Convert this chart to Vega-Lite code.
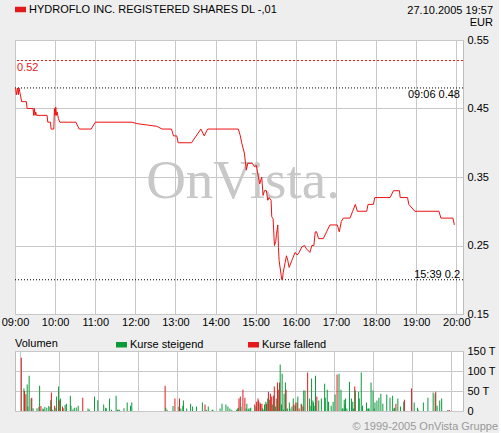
{
  "$schema": "https://vega.github.io/schema/vega-lite/v6.json",
  "background": "#eeeeee",
  "padding": {"left": 0, "top": 3, "right": 0, "bottom": 0},
  "spacing": 10,
  "resolve": {"scale": {"color": "independent"}},
  "vconcat": [
    {
      "width": 448,
      "height": 274,
      "title": {"text": ["27.10.2005 19:57", "EUR"], "anchor": "end", "frame": "group", "align": "right", "dx": 30, "offset": -23.5, "fontSize": 11, "fontWeight": "normal", "font": "Liberation Sans", "lineHeight": 11.5, "color": "#000000"},
      "layer": [
        {
          "data": {"values": [{"time": "2005-10-27T14:41", "level": 0.319, "label": "OnVista."}]},
          "mark": {"type": "text", "font": "Liberation Serif", "fontSize": 55, "color": "#c8c8c8", "align": "center", "baseline": "alphabetic"},
          "encoding": {
            "x": {"field": "time", "type": "temporal", "title": null, "scale": {"domain": {"expr": "[datetime(2005, 9, 27, 9, 0), datetime(2005, 9, 27, 20, 10)]"}}, "axis": {"format": "%H:%M", "tickCount": 12, "labelFlush": false, "labelOverlap": false, "labelPadding": 2, "grid": true}},
            "y": {"field": "level", "type": "quantitative", "title": null, "scale": {"domain": [0.15, 0.55], "nice": false, "zero": false}, "axis": {"orient": "right", "values": [0.15, 0.2, 0.25, 0.3, 0.35, 0.4, 0.45, 0.5, 0.55], "format": ".2f", "labelPadding": 4, "labelOverlap": false, "grid": true}},
            "text": {"field": "label"}
          }
        },
        {
          "data": {"values": [{"level": 0.52}]},
          "mark": {"type": "rule", "color": "#e8141c", "strokeDash": [2, 2], "strokeWidth": 1},
          "encoding": {"y": {"field": "level", "type": "quantitative", "scale": {"domain": [0.15, 0.55], "nice": false, "zero": false}}}
        },
        {
          "data": {"values": [{"level": 0.48}, {"level": 0.2}]},
          "mark": {"type": "rule", "color": "#000000", "strokeDash": [1, 2], "strokeWidth": 1},
          "encoding": {"y": {"field": "level", "type": "quantitative", "scale": {"domain": [0.15, 0.55], "nice": false, "zero": false}}}
        },
        {
          "data": {"values": [{"time": "2005-10-27T09:00", "level": 0.52, "label": "0.52"}]},
          "mark": {"type": "text", "align": "left", "baseline": "top", "dx": 2, "dy": 1, "color": "#e8141c", "fontSize": 11, "font": "Liberation Sans"},
          "encoding": {
            "x": {"field": "time", "type": "temporal", "scale": {"domain": {"expr": "[datetime(2005, 9, 27, 9, 0), datetime(2005, 9, 27, 20, 10)]"}}},
            "y": {"field": "level", "type": "quantitative", "scale": {"domain": [0.15, 0.55], "nice": false, "zero": false}},
            "text": {"field": "label"}
          }
        },
        {
          "data": {"values": [{"time": "2005-10-27T20:10", "level": 0.48, "label": "09:06 0.48"}]},
          "mark": {"type": "text", "align": "right", "baseline": "top", "dx": -3, "dy": 1, "color": "#000000", "fontSize": 11, "font": "Liberation Sans"},
          "encoding": {
            "x": {"field": "time", "type": "temporal", "scale": {"domain": {"expr": "[datetime(2005, 9, 27, 9, 0), datetime(2005, 9, 27, 20, 10)]"}}},
            "y": {"field": "level", "type": "quantitative", "scale": {"domain": [0.15, 0.55], "nice": false, "zero": false}},
            "text": {"field": "label"}
          }
        },
        {
          "data": {"values": [{"time": "2005-10-27T20:10", "level": 0.2, "label": "15:39 0.2"}]},
          "mark": {"type": "text", "align": "right", "baseline": "alphabetic", "dx": -3, "dy": -2, "color": "#000000", "fontSize": 11, "font": "Liberation Sans"},
          "encoding": {
            "x": {"field": "time", "type": "temporal", "scale": {"domain": {"expr": "[datetime(2005, 9, 27, 9, 0), datetime(2005, 9, 27, 20, 10)]"}}},
            "y": {"field": "level", "type": "quantitative", "scale": {"domain": [0.15, 0.55], "nice": false, "zero": false}},
            "text": {"field": "label"}
          }
        },
        {
          "data": {"values": [
            {"time": "2005-10-27T09:01", "price": 0.48},
            {"time": "2005-10-27T09:02", "price": 0.47},
            {"time": "2005-10-27T09:04", "price": 0.48},
            {"time": "2005-10-27T09:05", "price": 0.47},
            {"time": "2005-10-27T09:06", "price": 0.48},
            {"time": "2005-10-27T09:08", "price": 0.47},
            {"time": "2005-10-27T09:10", "price": 0.46},
            {"time": "2005-10-27T09:17", "price": 0.46},
            {"time": "2005-10-27T09:18", "price": 0.45},
            {"time": "2005-10-27T09:27", "price": 0.45},
            {"time": "2005-10-27T09:28", "price": 0.44},
            {"time": "2005-10-27T09:29", "price": 0.45},
            {"time": "2005-10-27T09:30", "price": 0.44},
            {"time": "2005-10-27T09:31", "price": 0.445},
            {"time": "2005-10-27T09:32", "price": 0.44},
            {"time": "2005-10-27T09:48", "price": 0.44},
            {"time": "2005-10-27T09:49", "price": 0.43},
            {"time": "2005-10-27T09:53", "price": 0.43},
            {"time": "2005-10-27T09:54", "price": 0.42},
            {"time": "2005-10-27T09:58", "price": 0.42},
            {"time": "2005-10-27T09:59", "price": 0.45},
            {"time": "2005-10-27T10:00", "price": 0.44},
            {"time": "2005-10-27T10:01", "price": 0.452},
            {"time": "2005-10-27T10:02", "price": 0.44},
            {"time": "2005-10-27T10:03", "price": 0.445},
            {"time": "2005-10-27T10:04", "price": 0.44},
            {"time": "2005-10-27T10:05", "price": 0.435},
            {"time": "2005-10-27T10:07", "price": 0.43},
            {"time": "2005-10-27T10:31", "price": 0.43},
            {"time": "2005-10-27T10:36", "price": 0.42},
            {"time": "2005-10-27T10:54", "price": 0.42},
            {"time": "2005-10-27T11:00", "price": 0.43},
            {"time": "2005-10-27T11:55", "price": 0.43},
            {"time": "2005-10-27T12:02", "price": 0.428},
            {"time": "2005-10-27T12:17", "price": 0.426},
            {"time": "2005-10-27T12:32", "price": 0.424},
            {"time": "2005-10-27T12:40", "price": 0.42},
            {"time": "2005-10-27T12:54", "price": 0.42},
            {"time": "2005-10-27T12:57", "price": 0.41},
            {"time": "2005-10-27T13:02", "price": 0.41},
            {"time": "2005-10-27T13:04", "price": 0.40},
            {"time": "2005-10-27T13:24", "price": 0.40},
            {"time": "2005-10-27T13:38", "price": 0.42},
            {"time": "2005-10-27T13:43", "price": 0.41},
            {"time": "2005-10-27T13:48", "price": 0.42},
            {"time": "2005-10-27T14:34", "price": 0.42},
            {"time": "2005-10-27T14:37", "price": 0.41},
            {"time": "2005-10-27T14:39", "price": 0.40},
            {"time": "2005-10-27T14:43", "price": 0.385},
            {"time": "2005-10-27T14:46", "price": 0.36},
            {"time": "2005-10-27T14:48", "price": 0.37},
            {"time": "2005-10-27T14:55", "price": 0.37},
            {"time": "2005-10-27T14:58", "price": 0.365},
            {"time": "2005-10-27T15:01", "price": 0.367},
            {"time": "2005-10-27T15:04", "price": 0.35},
            {"time": "2005-10-27T15:06", "price": 0.34},
            {"time": "2005-10-27T15:09", "price": 0.35},
            {"time": "2005-10-27T15:11", "price": 0.323},
            {"time": "2005-10-27T15:13", "price": 0.33},
            {"time": "2005-10-27T15:16", "price": 0.33},
            {"time": "2005-10-27T15:18", "price": 0.316},
            {"time": "2005-10-27T15:20", "price": 0.32},
            {"time": "2005-10-27T15:23", "price": 0.316},
            {"time": "2005-10-27T15:24", "price": 0.292},
            {"time": "2005-10-27T15:26", "price": 0.289},
            {"time": "2005-10-27T15:28", "price": 0.25},
            {"time": "2005-10-27T15:30", "price": 0.256},
            {"time": "2005-10-27T15:31", "price": 0.266},
            {"time": "2005-10-27T15:33", "price": 0.28},
            {"time": "2005-10-27T15:34", "price": 0.247},
            {"time": "2005-10-27T15:35", "price": 0.228},
            {"time": "2005-10-27T15:39", "price": 0.20},
            {"time": "2005-10-27T15:40", "price": 0.20},
            {"time": "2005-10-27T15:41", "price": 0.21},
            {"time": "2005-10-27T15:44", "price": 0.225},
            {"time": "2005-10-27T15:46", "price": 0.235},
            {"time": "2005-10-27T15:48", "price": 0.228},
            {"time": "2005-10-27T15:50", "price": 0.218},
            {"time": "2005-10-27T15:54", "price": 0.228},
            {"time": "2005-10-27T15:56", "price": 0.233},
            {"time": "2005-10-27T15:59", "price": 0.24},
            {"time": "2005-10-27T16:02", "price": 0.236},
            {"time": "2005-10-27T16:05", "price": 0.24},
            {"time": "2005-10-27T16:09", "price": 0.248},
            {"time": "2005-10-27T16:13", "price": 0.25},
            {"time": "2005-10-27T16:16", "price": 0.245},
            {"time": "2005-10-27T16:21", "price": 0.24},
            {"time": "2005-10-27T16:24", "price": 0.25},
            {"time": "2005-10-27T16:27", "price": 0.25},
            {"time": "2005-10-27T16:29", "price": 0.27},
            {"time": "2005-10-27T16:31", "price": 0.27},
            {"time": "2005-10-27T16:34", "price": 0.26},
            {"time": "2005-10-27T16:41", "price": 0.26},
            {"time": "2005-10-27T16:46", "price": 0.27},
            {"time": "2005-10-27T16:51", "price": 0.28},
            {"time": "2005-10-27T17:02", "price": 0.28},
            {"time": "2005-10-27T17:05", "price": 0.27},
            {"time": "2005-10-27T17:08", "price": 0.285},
            {"time": "2005-10-27T17:11", "price": 0.29},
            {"time": "2005-10-27T17:21", "price": 0.29},
            {"time": "2005-10-27T17:25", "price": 0.30},
            {"time": "2005-10-27T17:29", "price": 0.31},
            {"time": "2005-10-27T17:32", "price": 0.30},
            {"time": "2005-10-27T17:46", "price": 0.30},
            {"time": "2005-10-27T17:48", "price": 0.31},
            {"time": "2005-10-27T17:56", "price": 0.31},
            {"time": "2005-10-27T17:58", "price": 0.32},
            {"time": "2005-10-27T18:21", "price": 0.32},
            {"time": "2005-10-27T18:26", "price": 0.33},
            {"time": "2005-10-27T18:35", "price": 0.33},
            {"time": "2005-10-27T18:36", "price": 0.32},
            {"time": "2005-10-27T18:47", "price": 0.32},
            {"time": "2005-10-27T18:49", "price": 0.31},
            {"time": "2005-10-27T18:58", "price": 0.30},
            {"time": "2005-10-27T19:34", "price": 0.30},
            {"time": "2005-10-27T19:37", "price": 0.29},
            {"time": "2005-10-27T19:55", "price": 0.29},
            {"time": "2005-10-27T19:57", "price": 0.28}
          ]},
          "mark": {"type": "line", "strokeWidth": 1},
          "encoding": {
            "x": {"field": "time", "type": "temporal", "title": null, "scale": {"domain": {"expr": "[datetime(2005, 9, 27, 9, 0), datetime(2005, 9, 27, 20, 10)]"}}, "axis": {"format": "%H:%M", "tickCount": 12, "labelFlush": false, "labelOverlap": false, "labelPadding": 2, "grid": true}},
            "y": {"field": "price", "type": "quantitative", "title": null, "scale": {"domain": [0.15, 0.55], "nice": false, "zero": false}, "axis": {"orient": "right", "values": [0.15, 0.2, 0.25, 0.3, 0.35, 0.4, 0.45, 0.5, 0.55], "format": ".2f", "labelPadding": 4, "labelOverlap": false, "grid": true}},
            "color": {"datum": "HYDROFLO INC. REGISTERED SHARES DL -,01", "type": "nominal", "scale": {"range": ["#ee1111"]}, "legend": {"orient": "none", "legendX": 0, "legendY": -36, "title": null, "symbolType": "M-1,-0.5H1V0.5H-1Z", "symbolSize": 121, "symbolStrokeWidth": 0, "symbolFillColor": "#e31a1c", "labelFontSize": 11, "labelFont": "Liberation Sans", "labelOffset": 3, "labelLimit": 0, "labelColor": "#000000", "padding": 0}}
          }
        }
      ]
    },
    {
      "width": 448,
      "height": 60,
      "title": {"text": "© 1999-2005 OnVista Gruppe", "orient": "bottom", "anchor": "end", "frame": "group", "align": "right", "dx": 35, "offset": 5, "fontSize": 11, "fontWeight": "normal", "font": "Liberation Sans", "color": "#999999"},
      "data": {"values": [
        {"time": "2005-10-27T09:02", "volume": 133000, "dir": "Kurse fallend"},
        {"time": "2005-10-27T09:06", "volume": 56000, "dir": "Kurse steigend"},
        {"time": "2005-10-27T09:07", "volume": 50000, "dir": "Kurse fallend"},
        {"time": "2005-10-27T09:09", "volume": 42000, "dir": "Kurse fallend"},
        {"time": "2005-10-27T09:11", "volume": 66000, "dir": "Kurse steigend"},
        {"time": "2005-10-27T09:12", "volume": 11000, "dir": "Kurse steigend"},
        {"time": "2005-10-27T09:14", "volume": 88000, "dir": "Kurse steigend"},
        {"time": "2005-10-27T09:17", "volume": 31000, "dir": "Kurse steigend"},
        {"time": "2005-10-27T09:18", "volume": 33000, "dir": "Kurse fallend"},
        {"time": "2005-10-27T09:20", "volume": 7000, "dir": "Kurse steigend"},
        {"time": "2005-10-27T09:26", "volume": 7000, "dir": "Kurse steigend"},
        {"time": "2005-10-27T09:29", "volume": 10000, "dir": "Kurse fallend"},
        {"time": "2005-10-27T09:30", "volume": 63000, "dir": "Kurse steigend"},
        {"time": "2005-10-27T09:32", "volume": 12500, "dir": "Kurse fallend"},
        {"time": "2005-10-27T09:35", "volume": 6000, "dir": "Kurse steigend"},
        {"time": "2005-10-27T09:36", "volume": 4000, "dir": "Kurse steigend"},
        {"time": "2005-10-27T09:38", "volume": 10000, "dir": "Kurse steigend"},
        {"time": "2005-10-27T09:41", "volume": 8000, "dir": "Kurse steigend"},
        {"time": "2005-10-27T09:44", "volume": 12500, "dir": "Kurse steigend"},
        {"time": "2005-10-27T09:46", "volume": 10000, "dir": "Kurse steigend"},
        {"time": "2005-10-27T09:47", "volume": 27000, "dir": "Kurse steigend"},
        {"time": "2005-10-27T09:48", "volume": 46000, "dir": "Kurse fallend"},
        {"time": "2005-10-27T09:50", "volume": 3000, "dir": "Kurse steigend"},
        {"time": "2005-10-27T09:53", "volume": 13000, "dir": "Kurse fallend"},
        {"time": "2005-10-27T09:55", "volume": 8000, "dir": "Kurse steigend"},
        {"time": "2005-10-27T09:56", "volume": 36000, "dir": "Kurse steigend"},
        {"time": "2005-10-27T09:59", "volume": 61000, "dir": "Kurse steigend"},
        {"time": "2005-10-27T10:00", "volume": 27000, "dir": "Kurse fallend"},
        {"time": "2005-10-27T10:02", "volume": 31000, "dir": "Kurse steigend"},
        {"time": "2005-10-27T10:05", "volume": 11000, "dir": "Kurse fallend"},
        {"time": "2005-10-27T10:06", "volume": 7000, "dir": "Kurse fallend"},
        {"time": "2005-10-27T10:09", "volume": 15000, "dir": "Kurse steigend"},
        {"time": "2005-10-27T10:11", "volume": 18000, "dir": "Kurse steigend"},
        {"time": "2005-10-27T10:17", "volume": 38000, "dir": "Kurse steigend"},
        {"time": "2005-10-27T10:18", "volume": 13000, "dir": "Kurse steigend"},
        {"time": "2005-10-27T10:21", "volume": 4000, "dir": "Kurse steigend"},
        {"time": "2005-10-27T10:23", "volume": 8000, "dir": "Kurse steigend"},
        {"time": "2005-10-27T10:26", "volume": 9000, "dir": "Kurse steigend"},
        {"time": "2005-10-27T10:29", "volume": 13000, "dir": "Kurse steigend"},
        {"time": "2005-10-27T10:36", "volume": 33000, "dir": "Kurse fallend"},
        {"time": "2005-10-27T10:44", "volume": 6000, "dir": "Kurse steigend"},
        {"time": "2005-10-27T10:46", "volume": 4000, "dir": "Kurse steigend"},
        {"time": "2005-10-27T10:54", "volume": 36000, "dir": "Kurse steigend"},
        {"time": "2005-10-27T10:59", "volume": 27000, "dir": "Kurse steigend"},
        {"time": "2005-10-27T11:08", "volume": 16000, "dir": "Kurse steigend"},
        {"time": "2005-10-27T11:11", "volume": 8000, "dir": "Kurse steigend"},
        {"time": "2005-10-27T11:12", "volume": 6000, "dir": "Kurse steigend"},
        {"time": "2005-10-27T11:17", "volume": 31000, "dir": "Kurse steigend"},
        {"time": "2005-10-27T11:20", "volume": 3000, "dir": "Kurse steigend"},
        {"time": "2005-10-27T11:27", "volume": 38000, "dir": "Kurse steigend"},
        {"time": "2005-10-27T11:29", "volume": 3000, "dir": "Kurse steigend"},
        {"time": "2005-10-27T11:30", "volume": 3000, "dir": "Kurse steigend"},
        {"time": "2005-10-27T11:32", "volume": 3000, "dir": "Kurse steigend"},
        {"time": "2005-10-27T11:39", "volume": 7000, "dir": "Kurse steigend"},
        {"time": "2005-10-27T11:44", "volume": 21000, "dir": "Kurse steigend"},
        {"time": "2005-10-27T11:49", "volume": 13000, "dir": "Kurse steigend"},
        {"time": "2005-10-27T11:51", "volume": 21000, "dir": "Kurse steigend"},
        {"time": "2005-10-27T12:42", "volume": 63000, "dir": "Kurse fallend"},
        {"time": "2005-10-27T12:43", "volume": 8000, "dir": "Kurse steigend"},
        {"time": "2005-10-27T12:45", "volume": 3000, "dir": "Kurse steigend"},
        {"time": "2005-10-27T12:54", "volume": 12500, "dir": "Kurse steigend"},
        {"time": "2005-10-27T12:57", "volume": 31000, "dir": "Kurse fallend"},
        {"time": "2005-10-27T13:03", "volume": 11000, "dir": "Kurse steigend"},
        {"time": "2005-10-27T13:04", "volume": 31000, "dir": "Kurse fallend"},
        {"time": "2005-10-27T13:06", "volume": 6000, "dir": "Kurse steigend"},
        {"time": "2005-10-27T13:09", "volume": 13000, "dir": "Kurse steigend"},
        {"time": "2005-10-27T13:10", "volume": 26000, "dir": "Kurse steigend"},
        {"time": "2005-10-27T13:15", "volume": 6000, "dir": "Kurse steigend"},
        {"time": "2005-10-27T13:21", "volume": 18000, "dir": "Kurse steigend"},
        {"time": "2005-10-27T13:24", "volume": 11000, "dir": "Kurse steigend"},
        {"time": "2005-10-27T13:30", "volume": 11000, "dir": "Kurse steigend"},
        {"time": "2005-10-27T13:39", "volume": 21000, "dir": "Kurse steigend"},
        {"time": "2005-10-27T13:43", "volume": 16000, "dir": "Kurse fallend"},
        {"time": "2005-10-27T13:45", "volume": 3000, "dir": "Kurse steigend"},
        {"time": "2005-10-27T13:48", "volume": 11000, "dir": "Kurse steigend"},
        {"time": "2005-10-27T13:54", "volume": 3000, "dir": "Kurse steigend"},
        {"time": "2005-10-27T13:55", "volume": 3000, "dir": "Kurse steigend"},
        {"time": "2005-10-27T14:06", "volume": 6000, "dir": "Kurse steigend"},
        {"time": "2005-10-27T14:09", "volume": 18000, "dir": "Kurse steigend"},
        {"time": "2005-10-27T14:15", "volume": 16000, "dir": "Kurse steigend"},
        {"time": "2005-10-27T14:18", "volume": 11000, "dir": "Kurse steigend"},
        {"time": "2005-10-27T14:21", "volume": 6000, "dir": "Kurse steigend"},
        {"time": "2005-10-27T14:24", "volume": 3000, "dir": "Kurse steigend"},
        {"time": "2005-10-27T14:31", "volume": 3000, "dir": "Kurse steigend"},
        {"time": "2005-10-27T14:33", "volume": 6000, "dir": "Kurse steigend"},
        {"time": "2005-10-27T14:34", "volume": 8000, "dir": "Kurse steigend"},
        {"time": "2005-10-27T14:35", "volume": 31000, "dir": "Kurse fallend"},
        {"time": "2005-10-27T14:37", "volume": 36000, "dir": "Kurse fallend"},
        {"time": "2005-10-27T14:38", "volume": 11000, "dir": "Kurse steigend"},
        {"time": "2005-10-27T14:41", "volume": 53000, "dir": "Kurse fallend"},
        {"time": "2005-10-27T14:44", "volume": 33000, "dir": "Kurse fallend"},
        {"time": "2005-10-27T14:46", "volume": 6000, "dir": "Kurse steigend"},
        {"time": "2005-10-27T14:47", "volume": 18000, "dir": "Kurse steigend"},
        {"time": "2005-10-27T14:49", "volume": 3000, "dir": "Kurse steigend"},
        {"time": "2005-10-27T14:50", "volume": 6000, "dir": "Kurse steigend"},
        {"time": "2005-10-27T14:52", "volume": 6000, "dir": "Kurse steigend"},
        {"time": "2005-10-27T14:53", "volume": 8000, "dir": "Kurse steigend"},
        {"time": "2005-10-27T14:59", "volume": 16000, "dir": "Kurse fallend"},
        {"time": "2005-10-27T15:01", "volume": 11000, "dir": "Kurse steigend"},
        {"time": "2005-10-27T15:02", "volume": 23000, "dir": "Kurse fallend"},
        {"time": "2005-10-27T15:04", "volume": 31000, "dir": "Kurse fallend"},
        {"time": "2005-10-27T15:05", "volume": 26000, "dir": "Kurse fallend"},
        {"time": "2005-10-27T15:07", "volume": 21000, "dir": "Kurse steigend"},
        {"time": "2005-10-27T15:08", "volume": 18000, "dir": "Kurse fallend"},
        {"time": "2005-10-27T15:10", "volume": 18000, "dir": "Kurse fallend"},
        {"time": "2005-10-27T15:11", "volume": 6000, "dir": "Kurse steigend"},
        {"time": "2005-10-27T15:13", "volume": 3000, "dir": "Kurse steigend"},
        {"time": "2005-10-27T15:14", "volume": 16000, "dir": "Kurse steigend"},
        {"time": "2005-10-27T15:16", "volume": 23000, "dir": "Kurse steigend"},
        {"time": "2005-10-27T15:17", "volume": 18000, "dir": "Kurse fallend"},
        {"time": "2005-10-27T15:19", "volume": 31000, "dir": "Kurse steigend"},
        {"time": "2005-10-27T15:20", "volume": 48000, "dir": "Kurse fallend"},
        {"time": "2005-10-27T15:22", "volume": 28000, "dir": "Kurse steigend"},
        {"time": "2005-10-27T15:23", "volume": 43000, "dir": "Kurse fallend"},
        {"time": "2005-10-27T15:25", "volume": 36000, "dir": "Kurse fallend"},
        {"time": "2005-10-27T15:26", "volume": 16000, "dir": "Kurse steigend"},
        {"time": "2005-10-27T15:28", "volume": 38000, "dir": "Kurse fallend"},
        {"time": "2005-10-27T15:29", "volume": 61000, "dir": "Kurse fallend"},
        {"time": "2005-10-27T15:31", "volume": 11000, "dir": "Kurse steigend"},
        {"time": "2005-10-27T15:32", "volume": 31000, "dir": "Kurse steigend"},
        {"time": "2005-10-27T15:34", "volume": 71000, "dir": "Kurse fallend"},
        {"time": "2005-10-27T15:35", "volume": 53000, "dir": "Kurse fallend"},
        {"time": "2005-10-27T15:37", "volume": 71000, "dir": "Kurse fallend"},
        {"time": "2005-10-27T15:38", "volume": 116000, "dir": "Kurse steigend"},
        {"time": "2005-10-27T15:40", "volume": 16000, "dir": "Kurse steigend"},
        {"time": "2005-10-27T15:41", "volume": 93000, "dir": "Kurse steigend"},
        {"time": "2005-10-27T15:43", "volume": 3000, "dir": "Kurse steigend"},
        {"time": "2005-10-27T15:44", "volume": 43000, "dir": "Kurse steigend"},
        {"time": "2005-10-27T15:46", "volume": 71000, "dir": "Kurse steigend"},
        {"time": "2005-10-27T15:47", "volume": 53000, "dir": "Kurse fallend"},
        {"time": "2005-10-27T15:49", "volume": 6000, "dir": "Kurse steigend"},
        {"time": "2005-10-27T15:52", "volume": 21000, "dir": "Kurse steigend"},
        {"time": "2005-10-27T15:53", "volume": 6000, "dir": "Kurse steigend"},
        {"time": "2005-10-27T15:56", "volume": 11000, "dir": "Kurse steigend"},
        {"time": "2005-10-27T15:58", "volume": 31000, "dir": "Kurse steigend"},
        {"time": "2005-10-27T15:59", "volume": 16000, "dir": "Kurse fallend"},
        {"time": "2005-10-27T16:01", "volume": 13000, "dir": "Kurse steigend"},
        {"time": "2005-10-27T16:02", "volume": 21000, "dir": "Kurse fallend"},
        {"time": "2005-10-27T16:04", "volume": 21000, "dir": "Kurse fallend"},
        {"time": "2005-10-27T16:05", "volume": 36000, "dir": "Kurse steigend"},
        {"time": "2005-10-27T16:07", "volume": 6000, "dir": "Kurse fallend"},
        {"time": "2005-10-27T16:10", "volume": 18000, "dir": "Kurse steigend"},
        {"time": "2005-10-27T16:11", "volume": 16000, "dir": "Kurse fallend"},
        {"time": "2005-10-27T16:13", "volume": 11000, "dir": "Kurse fallend"},
        {"time": "2005-10-27T16:14", "volume": 51000, "dir": "Kurse steigend"},
        {"time": "2005-10-27T16:16", "volume": 51000, "dir": "Kurse steigend"},
        {"time": "2005-10-27T16:20", "volume": 96000, "dir": "Kurse fallend"},
        {"time": "2005-10-27T16:23", "volume": 31000, "dir": "Kurse steigend"},
        {"time": "2005-10-27T16:25", "volume": 13000, "dir": "Kurse steigend"},
        {"time": "2005-10-27T16:26", "volume": 81000, "dir": "Kurse steigend"},
        {"time": "2005-10-27T16:28", "volume": 26000, "dir": "Kurse steigend"},
        {"time": "2005-10-27T16:29", "volume": 21000, "dir": "Kurse steigend"},
        {"time": "2005-10-27T16:31", "volume": 13000, "dir": "Kurse steigend"},
        {"time": "2005-10-27T16:32", "volume": 88000, "dir": "Kurse steigend"},
        {"time": "2005-10-27T16:34", "volume": 36000, "dir": "Kurse fallend"},
        {"time": "2005-10-27T16:37", "volume": 26000, "dir": "Kurse steigend"},
        {"time": "2005-10-27T16:41", "volume": 31000, "dir": "Kurse steigend"},
        {"time": "2005-10-27T16:46", "volume": 68000, "dir": "Kurse steigend"},
        {"time": "2005-10-27T16:47", "volume": 33000, "dir": "Kurse steigend"},
        {"time": "2005-10-27T16:50", "volume": 53000, "dir": "Kurse steigend"},
        {"time": "2005-10-27T16:52", "volume": 23000, "dir": "Kurse steigend"},
        {"time": "2005-10-27T16:56", "volume": 13000, "dir": "Kurse steigend"},
        {"time": "2005-10-27T16:59", "volume": 23000, "dir": "Kurse steigend"},
        {"time": "2005-10-27T17:02", "volume": 41000, "dir": "Kurse steigend"},
        {"time": "2005-10-27T17:05", "volume": 91000, "dir": "Kurse fallend"},
        {"time": "2005-10-27T17:08", "volume": 93000, "dir": "Kurse steigend"},
        {"time": "2005-10-27T17:11", "volume": 53000, "dir": "Kurse steigend"},
        {"time": "2005-10-27T17:13", "volume": 6000, "dir": "Kurse steigend"},
        {"time": "2005-10-27T17:14", "volume": 6000, "dir": "Kurse steigend"},
        {"time": "2005-10-27T17:16", "volume": 28000, "dir": "Kurse steigend"},
        {"time": "2005-10-27T17:17", "volume": 16000, "dir": "Kurse steigend"},
        {"time": "2005-10-27T17:18", "volume": 31000, "dir": "Kurse steigend"},
        {"time": "2005-10-27T17:20", "volume": 6000, "dir": "Kurse steigend"},
        {"time": "2005-10-27T17:24", "volume": 73000, "dir": "Kurse steigend"},
        {"time": "2005-10-27T17:27", "volume": 31000, "dir": "Kurse steigend"},
        {"time": "2005-10-27T17:29", "volume": 23000, "dir": "Kurse steigend"},
        {"time": "2005-10-27T17:30", "volume": 6000, "dir": "Kurse steigend"},
        {"time": "2005-10-27T17:32", "volume": 61000, "dir": "Kurse fallend"},
        {"time": "2005-10-27T17:33", "volume": 51000, "dir": "Kurse steigend"},
        {"time": "2005-10-27T17:38", "volume": 48000, "dir": "Kurse steigend"},
        {"time": "2005-10-27T17:39", "volume": 31000, "dir": "Kurse steigend"},
        {"time": "2005-10-27T17:42", "volume": 96000, "dir": "Kurse steigend"},
        {"time": "2005-10-27T17:44", "volume": 13000, "dir": "Kurse steigend"},
        {"time": "2005-10-27T17:50", "volume": 21000, "dir": "Kurse steigend"},
        {"time": "2005-10-27T17:51", "volume": 6000, "dir": "Kurse steigend"},
        {"time": "2005-10-27T17:53", "volume": 6000, "dir": "Kurse steigend"},
        {"time": "2005-10-27T17:54", "volume": 6000, "dir": "Kurse steigend"},
        {"time": "2005-10-27T17:57", "volume": 71000, "dir": "Kurse steigend"},
        {"time": "2005-10-27T18:00", "volume": 51000, "dir": "Kurse steigend"},
        {"time": "2005-10-27T18:02", "volume": 6000, "dir": "Kurse steigend"},
        {"time": "2005-10-27T18:03", "volume": 21000, "dir": "Kurse steigend"},
        {"time": "2005-10-27T18:06", "volume": 26000, "dir": "Kurse steigend"},
        {"time": "2005-10-27T18:09", "volume": 33000, "dir": "Kurse steigend"},
        {"time": "2005-10-27T18:12", "volume": 43000, "dir": "Kurse steigend"},
        {"time": "2005-10-27T18:15", "volume": 18000, "dir": "Kurse steigend"},
        {"time": "2005-10-27T18:21", "volume": 41000, "dir": "Kurse steigend"},
        {"time": "2005-10-27T18:26", "volume": 33000, "dir": "Kurse steigend"},
        {"time": "2005-10-27T18:30", "volume": 38000, "dir": "Kurse steigend"},
        {"time": "2005-10-27T18:32", "volume": 6000, "dir": "Kurse steigend"},
        {"time": "2005-10-27T18:33", "volume": 8000, "dir": "Kurse steigend"},
        {"time": "2005-10-27T18:35", "volume": 18000, "dir": "Kurse fallend"},
        {"time": "2005-10-27T18:38", "volume": 31000, "dir": "Kurse steigend"},
        {"time": "2005-10-27T18:42", "volume": 11000, "dir": "Kurse steigend"},
        {"time": "2005-10-27T18:47", "volume": 23000, "dir": "Kurse steigend"},
        {"time": "2005-10-27T18:48", "volume": 28000, "dir": "Kurse fallend"},
        {"time": "2005-10-27T18:59", "volume": 56000, "dir": "Kurse fallend"},
        {"time": "2005-10-27T19:03", "volume": 21000, "dir": "Kurse steigend"},
        {"time": "2005-10-27T19:08", "volume": 8000, "dir": "Kurse steigend"},
        {"time": "2005-10-27T19:09", "volume": 3000, "dir": "Kurse steigend"},
        {"time": "2005-10-27T19:17", "volume": 21000, "dir": "Kurse steigend"},
        {"time": "2005-10-27T19:24", "volume": 33000, "dir": "Kurse steigend"},
        {"time": "2005-10-27T19:32", "volume": 46000, "dir": "Kurse steigend"},
        {"time": "2005-10-27T19:35", "volume": 43000, "dir": "Kurse steigend"},
        {"time": "2005-10-27T19:36", "volume": 48000, "dir": "Kurse fallend"},
        {"time": "2005-10-27T19:38", "volume": 13000, "dir": "Kurse steigend"},
        {"time": "2005-10-27T19:42", "volume": 26000, "dir": "Kurse steigend"},
        {"time": "2005-10-27T19:45", "volume": 31000, "dir": "Kurse steigend"},
        {"time": "2005-10-27T19:54", "volume": 2000, "dir": "Kurse steigend"},
        {"time": "2005-10-27T19:56", "volume": 2000, "dir": "Kurse fallend"},
        {"time": "2005-10-27T19:57", "volume": 2000, "dir": "Kurse fallend"}
      ]},
      "mark": {"type": "bar", "size": 1},
      "encoding": {
        "x": {"field": "time", "type": "temporal", "title": null, "scale": {"domain": {"expr": "[datetime(2005, 9, 27, 9, 0), datetime(2005, 9, 27, 20, 10)]"}}, "axis": {"labels": false, "tickCount": 12, "grid": true}},
        "y": {"field": "volume", "type": "quantitative", "title": null, "scale": {"domain": [0, 150000], "nice": false}, "axis": {"orient": "right", "values": [0, 50000, 100000, 150000], "labelExpr": "datum.value == 0 ? '0' : (datum.value / 1000) + ' T'", "labelPadding": 4, "labelOverlap": false, "grid": true}},
        "color": {"field": "dir", "type": "nominal", "scale": {"domain": ["Kurse steigend", "Kurse fallend"], "range": ["#0a9a3a", "#e31a1c"]}, "legend": {"orient": "top", "direction": "horizontal", "title": "Volumen", "titleOrient": "left", "titlePadding": 58, "titleFontSize": 11, "titleFont": "Liberation Sans", "titleFontWeight": "normal", "titleColor": "#000000", "labelFontSize": 11, "labelFont": "Liberation Sans", "labelColor": "#000000", "symbolType": "M-1,-0.5H1V0.5H-1Z", "symbolSize": 121, "symbolStrokeWidth": 0, "labelOffset": 3, "columnPadding": 44, "offset": 1.3, "padding": 0}}
      }
    }
  ],
  "config": {
    "font": "Liberation Sans",
    "view": {"stroke": "#bdbdbd", "fill": "#ffffff"},
    "axis": {"labelFont": "Liberation Sans", "labelFontSize": 11, "labelColor": "#000000", "gridColor": "#c8c8c8", "gridOpacity": 1, "domain": false, "ticks": false, "labelOverlap": false},
    "axisY": {"labelOverlap": false}
  }
}
